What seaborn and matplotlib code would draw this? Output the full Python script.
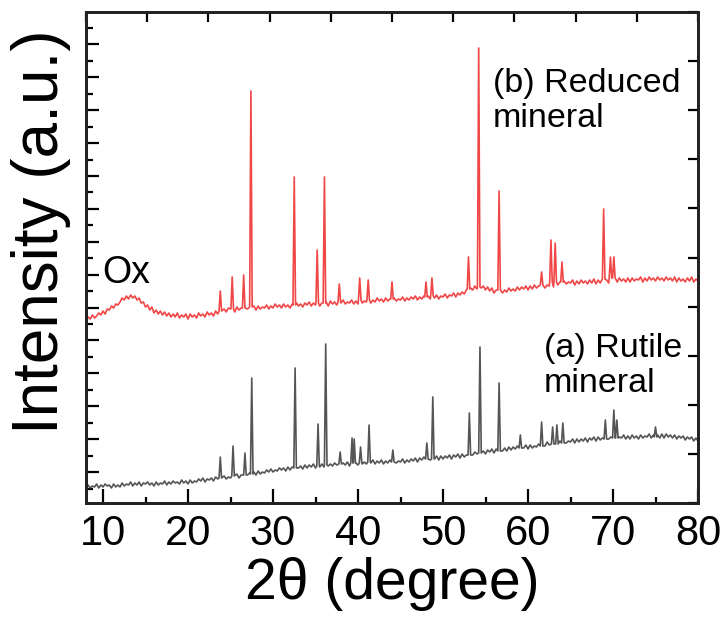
import numpy as np
import pandas as pd
import matplotlib
matplotlib.use("Agg")
import matplotlib.pyplot as plt
import seaborn as sns

base_theta = np.arange(8.0, 80.001, 0.25)

red_base = [
    182, 186, 184, 188, 185, 187, 190, 188, 192, 189, 194, 193, 197, 195, 199, 198,
    201, 205, 203, 207, 204, 208, 205, 207, 203, 205, 200, 201, 196, 198, 193, 196,
    190, 193, 189, 192, 188, 191, 187, 190, 186, 189, 186, 190, 185, 188, 186, 189,
    184, 189, 186, 188, 185, 190, 187, 189, 186, 191, 188, 190, 187, 192, 189, 191,
    190, 194, 191, 195, 192, 194, 191, 196, 193, 195, 192, 197, 194, 196, 193, 197,
    193, 197, 194, 196, 195, 198, 194, 197, 195, 199, 196, 198, 195, 199, 196, 198,
    195, 199, 196, 200, 197, 199, 196, 200, 198, 201, 197, 200, 198, 201, 197, 200,
    198, 201, 197, 202, 199, 201, 198, 202, 200, 203, 199, 201, 200, 203, 199, 202,
    199, 203, 200, 202, 201, 204, 200, 203, 201, 205, 202, 204, 201, 205, 202, 204,
    201, 205, 202, 204, 203, 206, 202, 205, 203, 206, 204, 207, 203, 206, 204, 207,
    203, 207, 204, 206, 205, 208, 204, 207, 206, 209, 205, 208, 207, 210, 206, 210,
    208, 211, 209, 213, 211, 215, 213, 217, 214, 218, 215, 217, 213, 216, 212, 215,
    210, 213, 211, 214, 210, 213, 211, 215, 212, 214, 212, 216, 213, 216, 214, 217,
    213, 217, 214, 218, 215, 217, 216, 219, 215, 218, 217, 220, 216, 220, 218, 221,
    218, 222, 219, 221, 220, 223, 218, 222, 219, 223, 220, 222, 219, 223, 220, 224,
    219, 223, 220, 224, 221, 223, 220, 225, 222, 224, 221, 225, 222, 224, 221, 225,
    221, 225, 222, 224, 223, 226, 221, 225, 222, 226, 223, 225, 222, 226, 223, 225,
    222, 226, 223, 225, 222, 226, 221, 225, 222, 224, 221, 225, 222, 226, 221, 224,
    222]

gray_base = [
    14, 18, 15, 17, 16, 19, 15, 18, 16, 19, 17, 18, 15, 19, 16, 18,
    16, 20, 17, 19, 18, 21, 17, 20, 18, 21, 17, 20, 19, 21, 18, 20,
    17, 21, 18, 20, 19, 22, 18, 21, 19, 22, 20, 21, 19, 23, 20, 22,
    19, 23, 20, 22, 21, 24, 22, 25, 21, 24, 23, 25, 22, 26, 24, 26,
    23, 27, 24, 26, 25, 28, 26, 29, 25, 28, 27, 30, 28, 30, 27, 31,
    28, 32, 29, 31, 30, 33, 31, 34, 31, 33, 32, 35, 33, 35, 32, 36,
    33, 36, 34, 37, 35, 37, 34, 38, 35, 38, 36, 39, 35, 39, 36, 39,
    36, 40, 37, 39, 37, 40, 38, 41, 37, 40, 38, 41, 37, 41, 38, 40,
    38, 42, 39, 41, 39, 42, 40, 43, 39, 42, 40, 43, 39, 42, 40, 43,
    39, 43, 40, 42, 41, 44, 40, 43, 41, 44, 42, 45, 41, 45, 43, 46,
    42, 46, 43, 45, 44, 47, 43, 47, 44, 47, 45, 48, 44, 48, 46, 49,
    45, 49, 46, 48, 47, 50, 48, 51, 49, 52, 50, 52, 49, 53, 51, 54,
    50, 54, 51, 53, 52, 55, 52, 56, 53, 56, 54, 57, 53, 57, 55, 58,
    54, 58, 55, 57, 56, 59, 57, 60, 57, 61, 58, 61, 59, 62, 58, 62,
    59, 63, 60, 62, 61, 64, 60, 64, 61, 64, 62, 65, 61, 65, 63, 66,
    62, 66, 63, 65, 63, 67, 64, 66, 63, 67, 64, 66, 65, 68, 64, 67,
    64, 68, 65, 67, 64, 68, 65, 67, 66, 69, 65, 68, 64, 68, 65, 69,
    65, 69, 66, 68, 65, 68, 64, 67, 65, 67, 63, 66, 64, 66, 62, 65,
    62]

# reflections: position, foot level, top level
red_peak_pos = [23.8, 25.2, 26.55, 27.4, 32.5, 35.2, 36.05, 37.8, 40.2, 41.2, 44.0,
                48.0, 48.7, 53.0, 54.2, 56.6, 61.6, 62.7, 63.2, 64.0, 68.9, 69.7, 70.1]
red_peak_foot = [192, 194, 195, 196, 198, 200, 200, 201, 203, 203, 204,
                 206, 207, 214, 216, 213, 218, 221, 221, 221, 224, 225, 225]
red_peak_top = [212, 226, 228, 412, 326, 253, 326, 219, 225, 223, 221,
                221, 225, 246, 455, 312, 231, 263, 260, 241, 294, 246, 246]

gray_peak_pos = [23.8, 25.3, 26.7, 27.5, 32.6, 35.3, 36.2, 37.9, 39.3, 39.55, 40.3, 41.3,
                 44.1, 48.1, 48.8, 53.1, 54.35, 56.6, 59.1, 61.6, 62.9, 63.4, 64.1,
                 69.1, 70.1, 70.45, 75.0]
gray_peak_foot = [25, 27, 28, 29, 35, 37, 38, 39, 40, 40, 40, 41,
                  41, 44, 44, 48, 50, 52, 55, 57, 59, 59, 60,
                  64, 65, 65, 66]
gray_peak_top = [46, 57, 50, 125, 135, 79, 159, 51, 65, 64, 56, 78,
                 53, 60, 106, 90, 156, 120, 68, 81, 76, 78, 80,
                 83, 93, 83, 76]

labels = ["(b) Reduced\nmineral", "(a) Rutile\nmineral"]


def pattern(base, pos, foot, top, name, hw=0.15):
    pos = np.asarray(pos)
    keep = np.array([np.min(np.abs(pos - t)) > hw + 0.05 for t in base_theta])
    xs = list(base_theta[keep])
    ys = list(np.asarray(base)[keep])
    for p, f, t in zip(pos, foot, top):
        xs += [p - hw, p, p + hw]
        ys += [f, t, f]
    d = pd.DataFrame({"theta": xs, "intensity": ys})
    d = d.sort_values("theta")
    d["sample"] = name
    return d


df = pd.concat([
    pattern(red_base, red_peak_pos, red_peak_foot, red_peak_top, "reduced"),
    pattern(gray_base, gray_peak_pos, gray_peak_foot, gray_peak_top, "rutile"),
])

sns.set_style("ticks")
plt.rcParams["font.family"] = ["Liberation Sans", "DejaVu Sans"]
plt.rcParams["text.color"] = "black"
plt.rcParams["axes.labelcolor"] = "black"
plt.rcParams["xtick.color"] = "black"
plt.rcParams["ytick.color"] = "black"

fig = plt.figure(figsize=(7.25, 6.33), dpi=100)
ax = fig.add_axes([86 / 725, 130 / 633, 612 / 725, 491 / 633])

sns.lineplot(data=df, x="theta", y="intensity", hue="sample", estimator=None, sort=False,
             palette={"reduced": "#f04646", "rutile": "#555555"}, linewidth=1.2,
             legend=False, ax=ax)

ax.set_xlim(8, 80)
ax.set_ylim(0, 491)
ax.set_xticks(np.arange(10, 81, 10))
ax.set_xticks(np.arange(15, 80, 10), minor=True)
ax.set_yticks(31 + 32.9 * np.arange(14))
ax.set_yticks(14.5 + 32.9 * np.arange(15), minor=True)
ax.set_yticklabels([])
ax.tick_params(axis="x", which="major", direction="in", length=10, width=1.6, labelsize=30, pad=8)
ax.tick_params(axis="x", which="minor", direction="in", length=4, width=1.6)
ax.tick_params(axis="y", which="major", direction="in", length=9, width=1.6)
ax.tick_params(axis="y", which="minor", direction="in", length=5, width=1.6)
for s in ax.spines.values():
    s.set_linewidth(1.8)
    s.set_color("#222222")

ax.set_xlabel("2θ (degree)", fontsize=41, labelpad=2)
ax.set_ylabel("Intensity (a.u.)", fontsize=46, va="center")
ax.yaxis.set_label_coords(-0.074, 0.552)

# top and right frames carry their own tick spacing
top = ax.twiny()
top.set_xlim(8, 80)
top.set_xticks(np.linspace(8, 80, 11))
top.set_xticklabels([])
top.tick_params(direction="in", length=7, width=1.6)
right = ax.twinx()
right.set_ylim(0, 491)
right.set_yticks(np.linspace(0, 491, 11))
right.set_yticklabels([])
right.tick_params(direction="in", length=7, width=1.6)
for a in (top, right):
    for s in a.spines.values():
        s.set_linewidth(1.8)
        s.set_color("#222222")

ax.text(12.7, 230, "Ox", fontsize=27, ha="center", va="center")
ax.text(55.9, 402, labels[0], fontsize=24.5, ha="left", va="center", linespacing=1.15)
ax.text(61.9, 137, labels[1], fontsize=24.5, ha="left", va="center", linespacing=1.15)

fig.savefig("out.png", dpi=100)
